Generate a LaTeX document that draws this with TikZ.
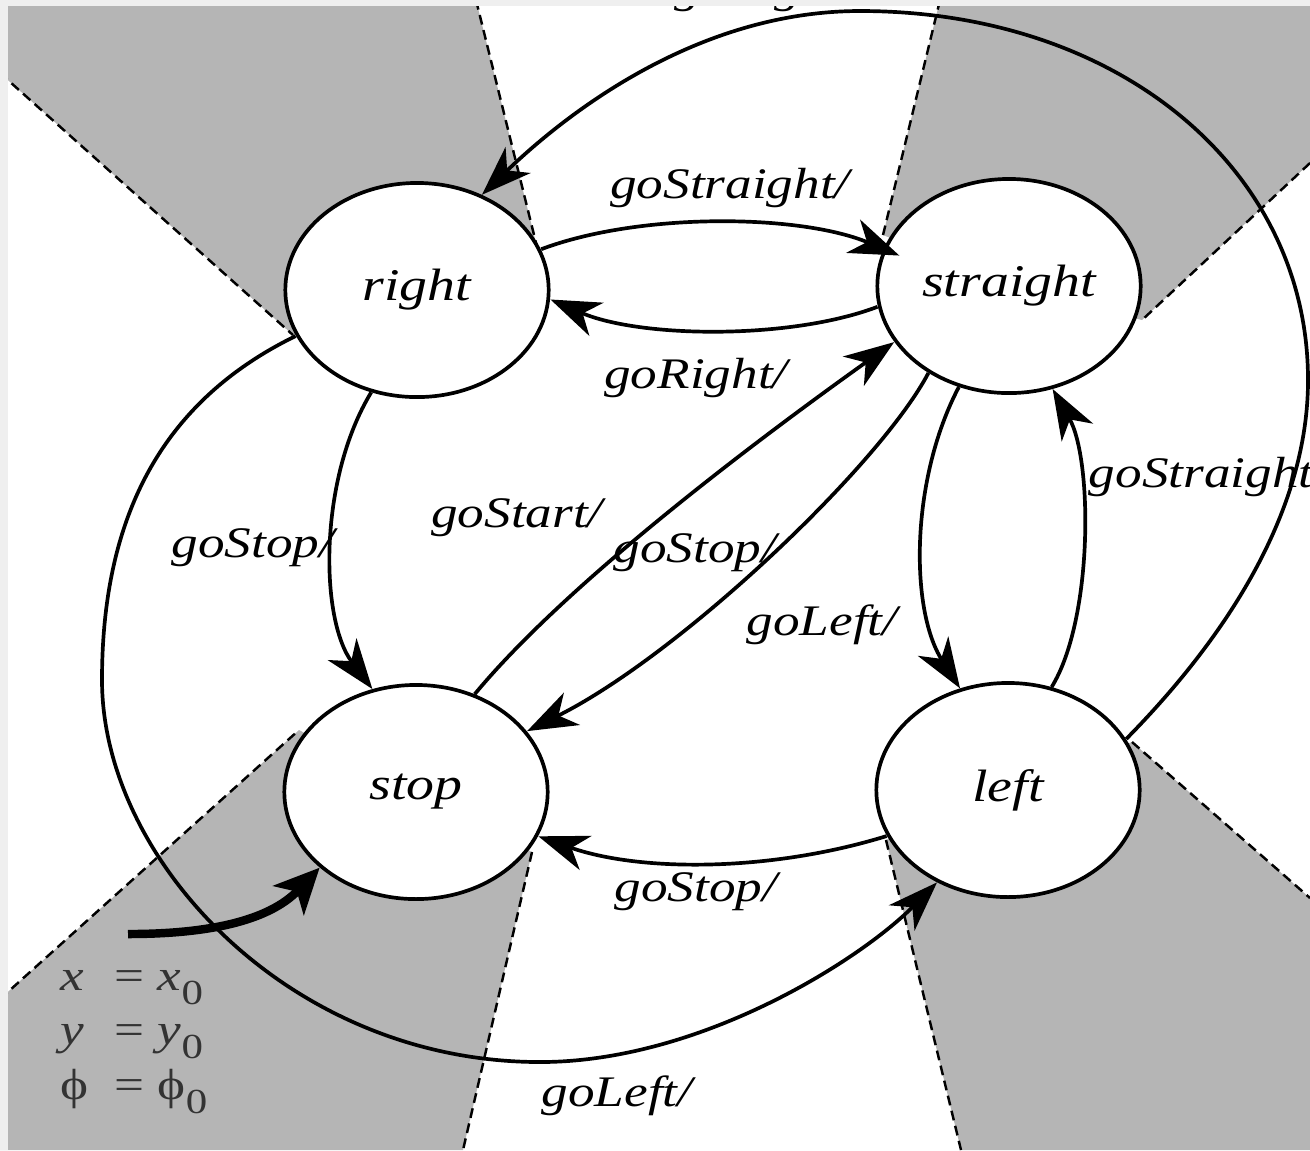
\documentclass[tikz,border=0pt]{standalone}
\usepackage{fontspec}
\setmainfont{Liberation Serif}
\usetikzlibrary{arrows.meta}

\definecolor{wedgegray}{RGB}{181,181,181}
\definecolor{edgegray}{RGB}{239,239,239}

% lowered zero for the start values
\newcommand{\zerosub}[1]{#1\raisebox{-4pt}{\fontsize{10}{11}\selectfont 0}}

\tikzset{
  state/.style={circle, draw, line width=1.05pt, fill=white, minimum size=2.14cm,
    inner sep=0pt, xscale=1.23, font=\itshape\fontsize{12.9}{15}\selectfont},
  trans/.style={line width=1.05pt, -{Stealth[length=0.5cm, width=0.36cm, inset=0.15cm]}},
  initarrow/.style={line width=2.4pt, -{Stealth[length=0.45cm, width=0.42cm, inset=0.12cm]}},
  lbl/.style={xscale=1.22, inner sep=0pt, font=\itshape\fontsize{12.4}{14}\selectfont},
  sector/.style={black, line width=0.7pt, dash pattern=on 2.8pt off 1.6pt},
}

\begin{document}
\begin{tikzpicture}[x=0.01cm, y=-0.01cm]
  \useasboundingbox (0,0) rectangle (1310,1150);
  \clip (0,0) rectangle (1310,1150);

  % grey sectors behind the states
  \fill[wedgegray] (0,0) -- (476,0) -- (537,247) -- (417,290) -- (293,335) -- (0,73) -- cycle;
  \fill[wedgegray] (940,0) -- (1310,0) -- (1310,163) -- (1142,320) -- (1009,286) -- (883,235) -- cycle;
  \fill[wedgegray] (0,999) -- (299,730) -- (416,792) -- (532,852) -- (463,1150) -- (0,1150) -- cycle;
  \fill[wedgegray] (886,840) -- (1008,790) -- (1132,742) -- (1310,898) -- (1310,1150) -- (961,1150) -- cycle;
  \draw[sector] (476,0) -- (537,247)  (0,73) -- (293,335);
  \draw[sector] (940,0) -- (883,235)  (1310,163) -- (1142,320);
  \draw[sector] (0,999) -- (299,730)  (532,852) -- (463,1150);
  \draw[sector] (886,840) -- (961,1150)  (1132,742) -- (1310,898);

  % states
  \node[state] (right)    at (417,290)  {right};
  \node[state] (straight) at (1009,286) {straight};
  \node[state] (stop)     at (416,792)  {stop};
  \node[state] (left)     at (1008,790) {left};

  % transitions
  \draw[trans] (right.250) .. controls (318,480) and (320,620) .. (stop.109);
  \draw[trans] (stop.64) .. controls (565,585) and (750,445) .. (straight.211);
  \draw[trans] (straight.233) .. controls (880,465) and (680,655) .. (stop.34);
  \draw[trans] (straight.248) .. controls (910,480) and (910,610) .. (left.111);
  \draw[trans] (left.71) .. controls (1093,620) and (1093,460) .. (straight.289);
  \draw[trans, shorten >=-5pt] (right.22) .. controls (640,212) and (800,214) .. (straight.160);
  \draw[trans] (straight.191) .. controls (790,340) and (640,338) .. (right.355);
  \draw[trans] (left.205) .. controls (770,872) and (640,872) .. (stop.336);
  \draw[trans] (right.205) .. controls (175,395) and (102,500) .. (102,680)
                           .. controls (102,860) and (290,1062) .. (540,1062)
                           .. controls (700,1062) and (860,960) .. (left.238);
  \draw[trans] (left.28) .. controls (1202,662) and (1308,530) .. (1308,380)
                         .. controls (1308,170) and (1120,11) .. (860,11)
                         .. controls (700,11) and (570,110) .. (right.61);

  % initial state
  \coordinate (init) at (128,934);
  \draw[initarrow] (init) .. controls (205,934) and (268,922) .. (stop.224);

  % transition labels
  \node[lbl] (l-rs) at (253,548)  {goStop/};
  \node[lbl] (l-ss) at (517,518)  {goStart/};
  \node[lbl] (l-ts) at (695,553)  {goStop/};
  \node[lbl] (l-tl) at (822,625)  {goLeft/};
  \node[lbl, anchor=west] (l-lt) at (1088,477) {goStraight/};
  \node[lbl] (l-rt) at (730,188)  {goStraight/};
  \node[lbl] (l-tr) at (696,378)  {goRight/};
  \node[lbl] (l-ls) at (696,892)  {goStop/};
  \node[lbl] (l-rl) at (617,1096) {goLeft/};
  \node[lbl, anchor=base] (l-lr) at (766,2) {goRight/};

  % start values
  \node[lbl, font=\fontsize{12.4}{15.6}\selectfont, text=black!80, anchor=base west] (start)
    at (60,990) {\begin{tabular}[t]{@{}l@{\hspace{6pt}}l@{}}
      \textit{x} & = \zerosub{\textit{x}}\\
      \textit{y} & = \zerosub{\textit{y}}\\
      ϕ & = \zerosub{ϕ}
    \end{tabular}};

  % page edge
  \fill[edgegray] (0,0) rectangle (1310,6);
  \fill[edgegray] (0,0) rectangle (8,1150);
\end{tikzpicture}
\end{document}
